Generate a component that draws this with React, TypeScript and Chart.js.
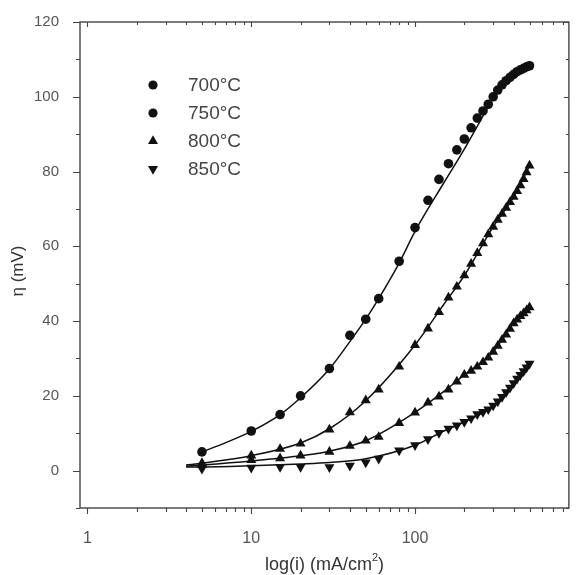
import React, { useEffect, useRef } from "react";
import { Chart, registerables } from "chart.js";

Chart.register(...registerables);

// ---- data ----
const temps = ["700°C", "750°C", "800°C", "850°C"];
const legendStyles = ["circle", "circle", "triangle", "triangleDown"];
const pointStyles = ["circle", "triangle", "triangle", "triangleDown"];

const currents = [5, 10, 15, 20, 30, 40, 50, 60, 80, 100, 120, 140, 160, 180, 200, 220, 240, 260, 280, 300, 320, 340, 360, 380, 400, 420, 440, 460, 480, 500];

const eta700 = [5, 10.6, 15, 20, 27.3, 36.2, 40.5, 46, 56, 65, 72.3, 77.9, 82.1, 85.8, 88.7, 91.7, 94.3, 96.2, 98, 100, 101.8, 103.2, 104.3, 105.2, 106, 106.7, 107.2, 107.6, 108, 108.3];
const eta750 = [2, 4, 5.8, 7.2, 11, 15.6, 18.8, 21.7, 27.8, 33.6, 38, 42.4, 46.3, 49.2, 52.2, 55.3, 58.2, 60.8, 63.2, 65.2, 67.1, 68.7, 70.3, 71.8, 73.2, 74.8, 76.3, 78, 79.8, 81.6];
const eta800 = [1.5, 2.8, 3.3, 4.0, 5.0, 6.6, 8.0, 9.0, 12.7, 15.5, 18.2, 19.8, 21.7, 23.8, 25.6, 26.7, 27.8, 29, 30.2, 31.8, 33.4, 35, 36.4, 37.9, 39.4, 40.4, 41.3, 42.1, 42.9, 43.7];
const eta850 = [0.5, 0.8, 1.0, 1.0, 0.9, 1.3, 2.2, 3.2, 5.4, 6.8, 8.4, 10.1, 11.2, 12.1, 13.0, 14.0, 15.1, 15.7, 16.4, 17.4, 18.5, 19.7, 21, 22.2, 23.4, 24.6, 25.6, 26.6, 27.6, 28.6];

const fit700X = [5, 7, 10, 15, 20, 30, 40, 50, 60, 80, 100, 150, 200, 250, 300, 400, 500];
const fit700 = [5, 7.5, 10.5, 15, 19.5, 27.2, 34.5, 40.5, 46, 55.5, 64, 77, 86, 93.5, 99.5, 105.5, 108.3];
const fitLowX = [4, 5, 10, 20, 30, 50, 100, 150, 200, 300, 400, 500];
const fit750 = [1.5, 2, 4, 7.4, 11.2, 18.7, 33.6, 44.5, 52.2, 65.2, 73.2, 81.6];
const fit800 = [1.2, 1.5, 2.6, 4.0, 5.2, 8.0, 15.6, 21.2, 25.6, 31.8, 39.4, 43.7];
const fit850 = [1.0, 1.0, 1.3, 1.8, 2.2, 3.2, 6.8, 10.6, 13.0, 17.4, 23.4, 28.6];

const xTickValues = [1, 2, 3, 4, 5, 6, 7, 8, 9, 10, 20, 30, 40, 50, 60, 70, 80, 90, 100, 200, 300, 400, 500, 600, 700, 800];
const xLabelled = [1, 10, 100];
const yTickValues = [-10, 0, 10, 20, 30, 40, 50, 60, 70, 80, 90, 100, 110, 120];
const yLabelled = [0, 20, 40, 60, 80, 100, 120];

const xTitle = "log(i) (mA/cm";
const xTitleSup = "2";
const yTitle = "η (mV)";

const FONT = "'Liberation Sans', Arial, sans-serif";

const pts = (xs: number[], ys: number[]) => xs.map((x, i) => ({ x, y: ys[i] }));

function drawMarker(ctx: CanvasRenderingContext2D, style: string, x: number, y: number, r: number) {
  ctx.beginPath();
  if (style === "circle") {
    ctx.arc(x, y, r, 0, Math.PI * 2);
  } else {
    let rad = style === "triangleDown" ? Math.PI : 0;
    ctx.moveTo(x + Math.sin(rad) * r, y - Math.cos(rad) * r);
    rad += (2 * Math.PI) / 3;
    ctx.lineTo(x + Math.sin(rad) * r, y - Math.cos(rad) * r);
    rad += (2 * Math.PI) / 3;
    ctx.lineTo(x + Math.sin(rad) * r, y - Math.cos(rad) * r);
    ctx.closePath();
  }
  ctx.fill();
}

const framePlugin = {
  id: "frameTicks",
  afterDraw(chart: any) {
    const { ctx, chartArea, scales } = chart;
    const { left, right, top, bottom } = chartArea;
    const x = scales.x;
    const y = scales.y;
    ctx.save();
    ctx.strokeStyle = "#444";
    ctx.lineWidth = 1.4;
    ctx.strokeRect(left, top, right - left, bottom - top);
    ctx.lineWidth = 1.1;
    ctx.beginPath();
    y.ticks.forEach((t: any) => {
      const py = Math.round(y.getPixelForValue(t.value)) + 0.5;
      const major = yLabelled.includes(t.value);
      ctx.moveTo(left - (major ? 7 : 4), py);
      ctx.lineTo(left, py);
      ctx.moveTo(right, py);
      ctx.lineTo(right - (major ? 5 : 3), py);
    });
    x.ticks.forEach((t: any) => {
      const px = Math.round(x.getPixelForValue(t.value)) + 0.5;
      const major = xLabelled.includes(t.value);
      ctx.moveTo(px, bottom);
      ctx.lineTo(px, bottom + (major ? 6 : 4));
      ctx.moveTo(px, top);
      ctx.lineTo(px, top + (major ? 5 : 3));
    });
    ctx.stroke();

    // legend
    ctx.fillStyle = "#111";
    const lx = 153;
    const ly0 = 85;
    const dy = 28;
    temps.forEach((t, i) => {
      drawMarker(ctx, legendStyles[i], lx, ly0 + i * dy, legendStyles[i] === "circle" ? 4.6 : 5.8);
    });
    ctx.fillStyle = "#444";
    ctx.font = `19px ${FONT}`;
    ctx.textBaseline = "middle";
    ctx.textAlign = "left";
    temps.forEach((t, i) => ctx.fillText(t, 188, ly0 + i * dy + 1));

    // axis titles
    ctx.fillStyle = "#333";
    ctx.font = `18px ${FONT}`;
    const w1 = ctx.measureText(xTitle).width;
    ctx.font = `11px ${FONT}`;
    const w2 = ctx.measureText(xTitleSup).width;
    ctx.font = `18px ${FONT}`;
    const w3 = ctx.measureText(")").width;
    const total = w1 + w2 + w3;
    let sx = (left + right) / 2 - total / 2;
    const by = 570;
    ctx.textBaseline = "alphabetic";
    ctx.fillText(xTitle, sx, by);
    sx += w1;
    ctx.font = `11px ${FONT}`;
    ctx.fillText(xTitleSup, sx, by - 9);
    sx += w2;
    ctx.font = `18px ${FONT}`;
    ctx.fillText(")", sx, by);

    ctx.translate(18, 271);
    ctx.rotate(-Math.PI / 2);
    ctx.textAlign = "center";
    ctx.textBaseline = "middle";
    ctx.font = `17px ${FONT}`;
    ctx.fillText(yTitle, 0, 0);
    ctx.restore();
  },
};

export default function App() {
  const ref = useRef<HTMLCanvasElement>(null);
  useEffect(() => {
    document.body.style.margin = "0";
    const series = [eta700, eta750, eta800, eta850];
    const fits = [pts(fit700X, fit700), pts(fitLowX, fit750), pts(fitLowX, fit800), pts(fitLowX, fit850)];
    const datasets: any[] = [];
    fits.forEach((f, i) => {
      datasets.push({
        label: temps[i] + " fit",
        data: f,
        showLine: true,
        borderColor: "#111",
        borderWidth: 1.5,
        pointRadius: 0,
        cubicInterpolationMode: "monotone",
      });
    });
    series.forEach((s, i) => {
      datasets.push({
        label: temps[i],
        data: pts(currents, s),
        showLine: false,
        pointStyle: pointStyles[i] === "triangleDown" ? "triangle" : pointStyles[i],
        rotation: pointStyles[i] === "triangleDown" ? 180 : 0,
        pointRadius: pointStyles[i] === "circle" ? 4.8 : 5.8,
        backgroundColor: "#111",
        borderColor: "#111",
        borderWidth: 0,
      });
    });
    const chart = new Chart(ref.current as HTMLCanvasElement, {
      type: "scatter",
      data: { datasets },
      options: {
        animation: false,
        responsive: true,
        maintainAspectRatio: false,
        layout: { padding: { top: 17, right: 4, left: 0, bottom: 0 } },
        plugins: { legend: { display: false }, tooltip: { enabled: false } },
        scales: {
          x: {
            type: "logarithmic",
            min: 0.9,
            max: 870,
            grid: { display: false },
            border: { display: false },
            afterBuildTicks: (s: any) => {
              s.ticks = xTickValues.map((v) => ({ value: v }));
            },
            afterFit: (s: any) => {
              s.height = 67;
            },
            ticks: {
              autoSkip: false,
              maxRotation: 0,
              padding: 13,
              color: "#555",
              font: { size: 16, family: FONT },
              callback: (v: any) => (xLabelled.includes(Number(v)) ? String(v) : ""),
            },
          },
          y: {
            type: "linear",
            min: -10,
            max: 120,
            grid: { display: false },
            border: { display: false },
            afterBuildTicks: (s: any) => {
              s.ticks = yTickValues.map((v) => ({ value: v }));
            },
            afterFit: (s: any) => {
              s.width = 80;
            },
            ticks: {
              autoSkip: false,
              padding: 13,
              color: "#555",
              font: { size: 15, family: FONT },
              callback: (v: any) => (yLabelled.includes(Number(v)) ? String(v) : ""),
            },
          },
        },
      },
      plugins: [framePlugin],
    } as any);
    return () => chart.destroy();
  }, []);
  return (
    <div style={{ width: 576, height: 575, position: "relative" }}>
      <canvas ref={ref} />
    </div>
  );
}
